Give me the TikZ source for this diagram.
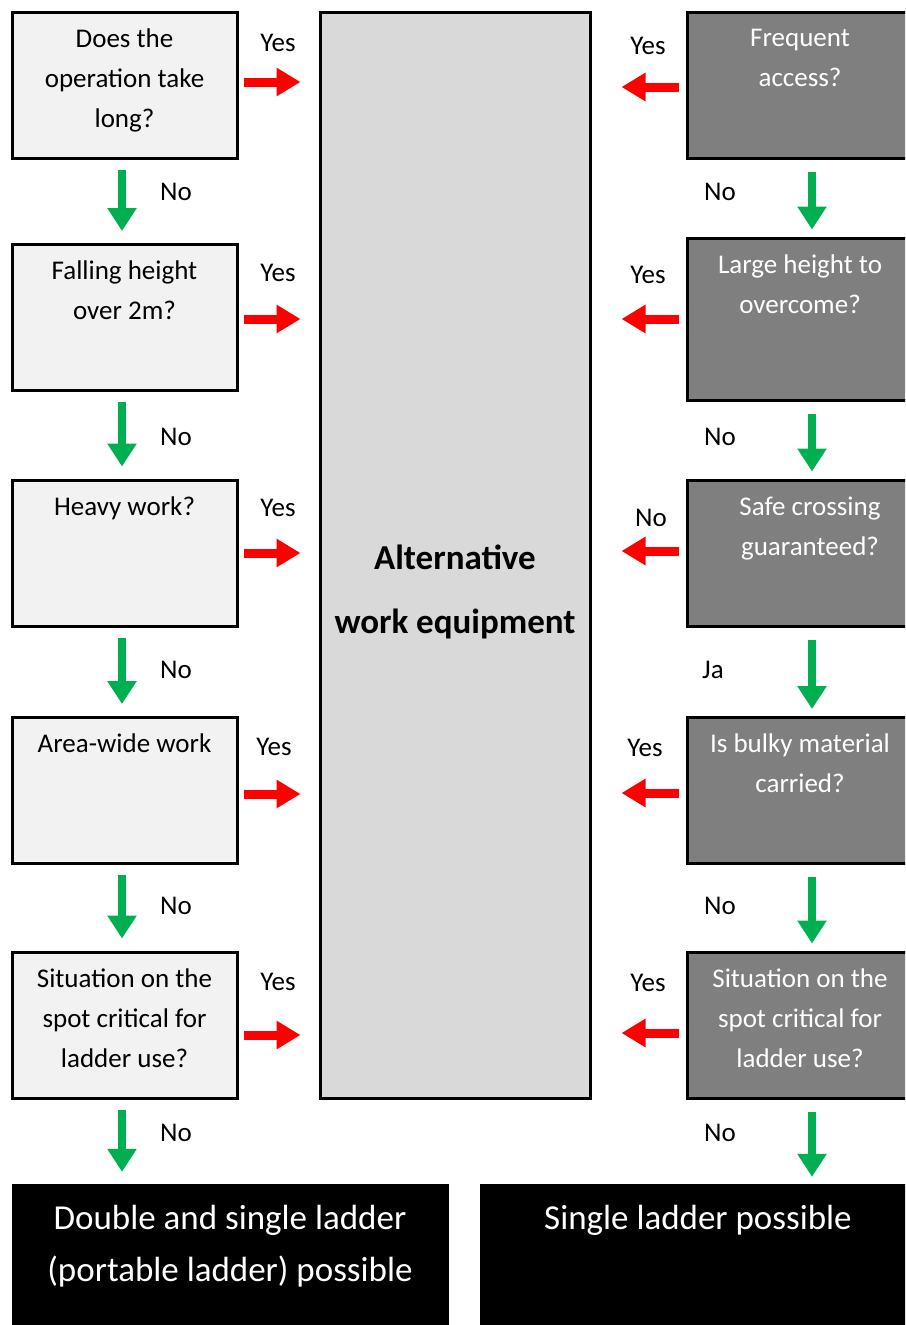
\documentclass[tikz,border=0pt]{standalone}
\usepackage{fontspec}
\setmainfont{Carlito}
\usetikzlibrary{arrows.meta}
\definecolor{leftgray}{HTML}{F2F2F2}
\definecolor{midgray}{HTML}{D9D9D9}
\definecolor{rightgray}{HTML}{7F7F7F}
\definecolor{yesred}{HTML}{FF0000}
\definecolor{nogreen}{HTML}{00B050}
\tikzset{
	% question boxes: light on the left, dark on the right
	left box/.style={rectangle,draw=black,line width=3pt,fill=leftgray,minimum width=225pt,minimum height=146pt,inner sep=0pt},
	right box/.style={rectangle,draw=black,line width=3pt,fill=rightgray,minimum width=226pt,minimum height=146pt,inner sep=0pt},
	end box/.style={rectangle,draw=black,fill=black,minimum width=436pt,minimum height=151pt,inner sep=0pt},
	box text/.style={anchor=north,yshift=-18pt,align=center,inner sep=0pt,font=\fontsize{27}{40}\selectfont},
	answer/.style={inner sep=0pt,font=\fontsize{27}{32}\selectfont},
	yes arrow/.style={color=yesred,line width=9pt,-{Triangle[length=24pt,width=27pt]}},
	no arrow/.style={color=nogreen,line width=8pt,-{Triangle[length=23pt,width=28pt]}}
}
\begin{document}
\begin{tikzpicture}[x=1pt,y=-1pt]
\useasboundingbox (0,0) rectangle (905,1325);
\clip (0,0) rectangle (905,1325);

% middle column
\node[rectangle, draw=black, line width=3pt, fill=midgray, minimum width=270pt, minimum height=1086pt,
  label={[anchor=center, yshift=-37pt, align=center, inner sep=0pt, font=\fontsize{35}{64}\selectfont\bfseries]center:Alternative\\work equipment}] (alt) at (455, 555) {};

% left column
\node(q1) at (124.5, 85) [left box, label={[box text]north:Does the\\operation take\\long?}] {};
\node(q2) at (124.5, 317.5) [left box, label={[box text]north:Falling height\\over 2m?}] {};
\node(q3) at (124.5, 553) [left box, label={[box text]north:Heavy work?}] {};
\node(q4) at (124.5, 790.5) [left box, label={[box text]north:Area-wide work}] {};
\node(q5) at (124.5, 1025) [left box, label={[box text]north:Situation on the\\spot critical for\\ladder use?}] {};

% right column
\node(r1) at (800, 85) [right box, label={[box text, text=white]north:Frequent\\access?}] {};
\node(r2) at (800, 319) [right box, minimum height=162pt, label={[box text, text=white]north:Large height to\\overcome?}] {};
\node(r3) at (800, 553) [right box, label={[box text, text=white, xshift=10pt]north:Safe crossing\\guaranteed?}] {};
\node(r4) at (800, 790.5) [right box, label={[box text, text=white]north:Is bulky material\\carried?}] {};
\node(r5) at (800, 1025) [right box, label={[box text, text=white]north:Situation on the\\spot critical for\\ladder use?}] {};

% results
\node(d1) at (230, 1259.5) [end box, label={[box text, text=white, yshift=-3pt, font=\fontsize{35}{52}\selectfont]north:Double and single ladder\\(portable ladder) possible}] {};
\node(d2) at (698, 1259.5) [end box, label={[box text, text=white, yshift=-3pt, font=\fontsize{35}{52}\selectfont]north:Single ladder possible}] {};

% answers
\node(y1) at (278, 43) [answer] {Yes};
\node(y2) at (278, 273) [answer] {Yes};
\node(y3) at (278, 508) [answer] {Yes};
\node(y4) at (274, 747) [answer] {Yes};
\node(y5) at (278, 982) [answer] {Yes};
\node(n1) at (176, 192) [answer] {No};
\node(n2) at (176, 437) [answer] {No};
\node(n3) at (176, 670) [answer] {No};
\node(n4) at (176, 906) [answer] {No};
\node(n5) at (176, 1133) [answer] {No};
\node(ry1) at (648, 46) [answer] {Yes};
\node(ry2) at (648, 275) [answer] {Yes};
\node(rn3) at (651, 518) [answer] {No};
\node(ry4) at (645, 748) [answer] {Yes};
\node(ry5) at (648, 983) [answer] {Yes};
\node(rn1) at (720, 192) [answer] {No};
\node(rn2) at (720, 437) [answer] {No};
\node(rj3) at (713, 670) [answer] {Ja};
\node(rn4) at (720, 906) [answer] {No};
\node(rn5) at (720, 1133) [answer] {No};

\path[yes arrow, shorten <=5pt, shorten >=18pt]
          ([yshift=3pt]q1.east) edge ([yshift=3pt]q1.east -| alt.west)
          ([yshift=-1.5pt]q2.east) edge ([yshift=-1.5pt]q2.east -| alt.west)
          (q3.east) edge (q3.east -| alt.west)
          ([yshift=-3.5pt]q4.east) edge ([yshift=-3.5pt]q4.east -| alt.west)
          ([yshift=-10pt]q5.east) edge ([yshift=-10pt]q5.east -| alt.west);
\path[yes arrow, shorten <=7pt, shorten >=30pt]
          ([yshift=-2pt]r1.west) edge ([yshift=-2pt]r1.west -| alt.east)
          (r2.west) edge (r2.west -| alt.east)
          ([yshift=2pt]r3.west) edge ([yshift=2pt]r3.west -| alt.east)
          ([yshift=-2.5pt]r4.west) edge ([yshift=-2.5pt]r4.west -| alt.east)
          ([yshift=-8pt]r5.west) edge ([yshift=-8pt]r5.west -| alt.east);
\path[no arrow, shorten <=10pt, shorten >=12pt]
          ([xshift=-2.5pt]q1.south) edge ([xshift=-2.5pt]q2.north)
          ([xshift=-2.5pt]q2.south) edge ([xshift=-2.5pt]q3.north)
          ([xshift=-2.5pt]q3.south) edge ([xshift=-2.5pt]q4.north)
          ([xshift=-2.5pt]q4.south) edge ([xshift=-2.5pt]q5.north)
          ([xshift=-2.5pt]q5.south) edge ([xshift=-2.5pt]q5.south |- d1.north);
\path[no arrow, shorten <=12pt, shorten >=7pt]
          ([xshift=12pt]r1.south) edge ([xshift=12pt]r2.north)
          ([xshift=12pt]r2.south) edge ([xshift=12pt]r3.north)
          ([xshift=12pt]r3.south) edge ([xshift=12pt]r4.north)
          ([xshift=12pt]r4.south) edge ([xshift=12pt]r5.north)
          ([xshift=12pt]r5.south) edge ([xshift=12pt]r5.south |- d2.north);

\end{tikzpicture}
\end{document}
